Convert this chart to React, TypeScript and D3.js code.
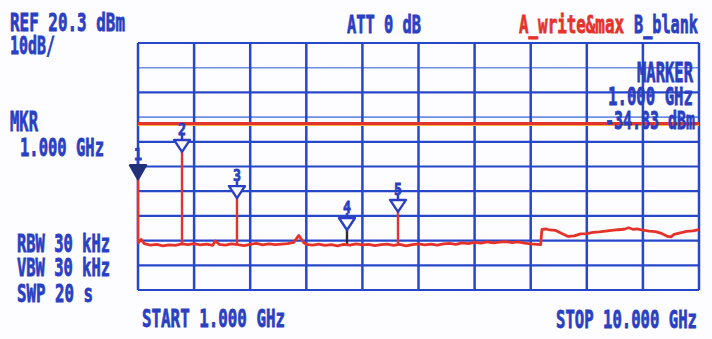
import React from "react";
import * as d3 from "d3";

// ---- data ----
const startGHz = 1.0;
const stopGHz = 10.0;
const refDbm = 20.3;
const dbPerDiv = 10;
const divisions = 10;
const displayLineDbm = -12.3;

// trace A (write & max hold): [GHz, dBm]
const traceGHz = [
  1.0, 1.05, 1.1, 1.2, 1.3, 1.4, 1.5, 1.6, 1.7, 1.8, 1.9, 2.0, 2.1, 2.2, 2.24, 2.3, 2.4, 2.5, 2.6, 2.7,
  2.8, 2.9, 3.0, 3.1, 3.2, 3.3, 3.4, 3.5, 3.58, 3.66, 3.7, 3.8, 3.9, 4.0, 4.1, 4.2, 4.3, 4.4, 4.5, 4.6,
  4.7, 4.8, 4.9, 5.0, 5.1, 5.2, 5.3, 5.4, 5.5, 5.6, 5.7, 5.8, 5.9, 6.0, 6.1, 6.2, 6.3, 6.4, 6.5, 6.6,
  6.7, 6.8, 6.9, 7.0, 7.1, 7.2, 7.3, 7.4, 7.46, 7.48, 7.55, 7.6, 7.7, 7.8, 7.9, 8.0, 8.1, 8.2, 8.3, 8.4,
  8.5, 8.6, 8.7, 8.8, 8.87, 8.95, 9.0, 9.1, 9.2, 9.3, 9.4, 9.5, 9.55, 9.6, 9.7, 9.8, 9.9, 10.0,
];
const traceDbm = [
  -60.8, -59.2, -60.9, -61.5, -61.2, -61.8, -61.4, -61.6, -61.0, -61.3, -60.9, -61.4, -61.1, -61.6, -59.8, -61.2, -61.5, -61.0, -61.3, -61.7,
  -61.2, -60.8, -61.4, -61.0, -61.3, -61.1, -60.9, -60.4, -57.6, -60.6, -61.2, -61.5, -61.1, -61.6, -61.3, -61.8, -61.2, -61.5, -61.0, -61.4,
  -61.2, -61.7, -61.3, -61.1, -61.6, -61.2, -61.8, -61.3, -61.0, -61.4, -61.1, -61.5, -61.0, -60.8, -61.2, -60.6, -60.9, -60.4, -60.7, -60.2,
  -60.6, -60.3, -60.1, -60.5, -60.2, -60.7, -61.0, -61.2, -61.3, -55.2, -55.0, -55.4, -55.6, -56.8, -58.0, -57.8, -57.0, -56.9, -56.4, -56.2,
  -55.9, -55.6, -55.3, -55.1, -54.5, -55.2, -55.0, -55.5, -55.9, -56.1, -56.8, -58.0, -58.2, -57.2, -56.6, -56.0, -55.8, -55.3,
];

// markers
const markerIds = ["1", "2", "3", "4", "5"];
const markerGHz = [1.0, 1.706, 2.588, 4.353, 5.171];
const markerDbm = [-34.83, -23.8, -42.5, -55.4, -48.1];
const markerFloorDbm = [-60.8, -61.0, -61.1, -61.2, -61.3];

// text labels
const headerLabels = ["REF 20.3 dBm", "10dB/", "ATT 0 dB", "A_write&max", "B_blank"];
const leftLabels = ["MKR", "1.000 GHz", "RBW 30 kHz", "VBW 30 kHz", "SWP 20 s"];
const readoutLabels = ["MARKER", "1.000 GHz", "-34.83 dBm"];
const axisLabels = ["START 1.000 GHz", "STOP 10.000 GHz"];

const BLUE = "#2b3fc2";
const GRID = "#2747c9";
const LIGHT = "#6f8ee2";
const RED = "#e4332b";

// text drawn as tall condensed glyphs: x left, y top, w width, h glyph height
function T({ x, y, w, h, s, fill = BLUE }: { x: number; y: number; w: number; h: number; s: string; fill?: string }) {
  const fs = h / 0.73;
  return (
    <text
      x={x}
      y={y + h}
      fontFamily="'DejaVu Sans Mono', monospace"
      fontWeight="bold"
      fontSize={fs}
      textLength={w}
      lengthAdjust="spacingAndGlyphs"
      fill={fill}
      stroke={fill}
      strokeWidth={0.8}
    >
      {s}
    </text>
  );
}

export default function App() {
  const W = 712;
  const H = 339;
  const x = d3.scaleLinear().domain([startGHz, stopGHz]).range([138, 699]);
  const y = d3.scaleLinear().domain([refDbm, refDbm - dbPerDiv * divisions]).range([43, 290]);

  const gridF = d3.range(divisions + 1).map((i) => startGHz + (i * (stopGHz - startGHz)) / divisions);
  const gridD = d3.range(divisions + 1).map((i) => refDbm - i * dbPerDiv);

  const pts: [number, number][] = traceGHz.map((f, i) => [f, traceDbm[i]]);
  const line = d3
    .line<[number, number]>()
    .x((d) => x(d[0]))
    .y((d) => y(d[1]));

  return (
    <svg width={W} height={H} style={{ position: "absolute", left: 0, top: 0, background: "#fff" }}>
      <rect width={W} height={H} fill="#fdfdff" />
      {/* grid */}
      {gridD.map((d, i) => {
        const light = i === 1 || i === 3;
        return (
          <line
            key={"h" + i}
            x1={x(startGHz)}
            x2={x(stopGHz)}
            y1={y(d)}
            y2={y(d)}
            stroke={light ? LIGHT : GRID}
            strokeWidth={light ? 1.6 : 2.2}
          />
        );
      })}
      {gridF.map((f, i) => (
        <line key={"v" + i} x1={x(f)} x2={x(f)} y1={y(gridD[0])} y2={y(gridD[divisions])} stroke={GRID} strokeWidth={2.5} />
      ))}

      {/* display line */}
      <line x1={x(startGHz)} x2={x(stopGHz)} y1={y(displayLineDbm) + 1.8} y2={y(displayLineDbm) + 1.8} stroke="#f3b04a" strokeWidth={1.6} />
      <line x1={x(startGHz)} x2={x(stopGHz)} y1={y(displayLineDbm)} y2={y(displayLineDbm)} stroke={RED} strokeWidth={3} />

      {/* marker stems */}
      {markerGHz.map((f, i) => (
        <line
          key={"s" + i}
          x1={x(f)}
          x2={x(f)}
          y1={y(markerFloorDbm[i])}
          y2={y(markerDbm[i])}
          stroke={i === 3 ? "#30283a" : RED}
          strokeWidth={2.4}
        />
      ))}

      {/* trace */}
      <path d={line(pts) || ""} fill="none" stroke={RED} strokeWidth={2.8} strokeLinejoin="round" />

      {/* marker glyphs */}
      {markerGHz.map((f, i) => {
        const cx = x(f);
        const tip = y(markerDbm[i]);
        const th = i === 0 ? 14 : 12;
        const top = tip - th;
        const hw = 8;
        const filled = i === 0;
        return (
          <g key={"m" + i}>
            <line x1={cx} x2={cx} y1={top - 5} y2={top} stroke={BLUE} strokeWidth={2.5} />
            <path
              d={`M${cx - hw},${top} L${cx + hw},${top} L${cx},${tip} Z`}
              fill={filled ? "#23307a" : "#fff"}
              stroke={filled ? "#23307a" : BLUE}
              strokeWidth={2.4}
              strokeLinejoin="round"
            />
            <T x={cx - 4} y={top - 17} w={8} h={12} s={markerIds[i]} />
          </g>
        );
      })}

      {/* header */}
      <T x={10} y={13} w={115} h={18} s={headerLabels[0]} />
      <T x={10} y={36} w={45} h={18} s={headerLabels[1]} />
      <T x={347} y={15} w={74} h={18} s={headerLabels[2]} />
      <T x={519} y={15} w={105} h={18} s={headerLabels[3]} fill={RED} />
      <T x={634} y={15} w={64} h={18} s={headerLabels[4]} />

      {/* left */}
      <T x={10} y={112} w={28} h={19} s={leftLabels[0]} />
      <T x={20} y={138} w={84} h={18} s={leftLabels[1]} />
      <T x={17} y={234} w={93} h={18} s={leftLabels[2]} />
      <T x={17} y={258} w={93} h={18} s={leftLabels[3]} />
      <T x={17} y={284} w={76} h={18} s={leftLabels[4]} />

      {/* readout */}
      <T x={637} y={63} w={56} h={19} s={readoutLabels[0]} />
      <T x={608} y={87} w={85} h={18} s={readoutLabels[1]} />
      <T x={605} y={111} w={90} h={18} s={readoutLabels[2]} />

      {/* axis */}
      <T x={142} y={309} w={143} h={18} s={axisLabels[0]} />
      <T x={556} y={310} w={141} h={18} s={axisLabels[1]} />
    </svg>
  );
}
